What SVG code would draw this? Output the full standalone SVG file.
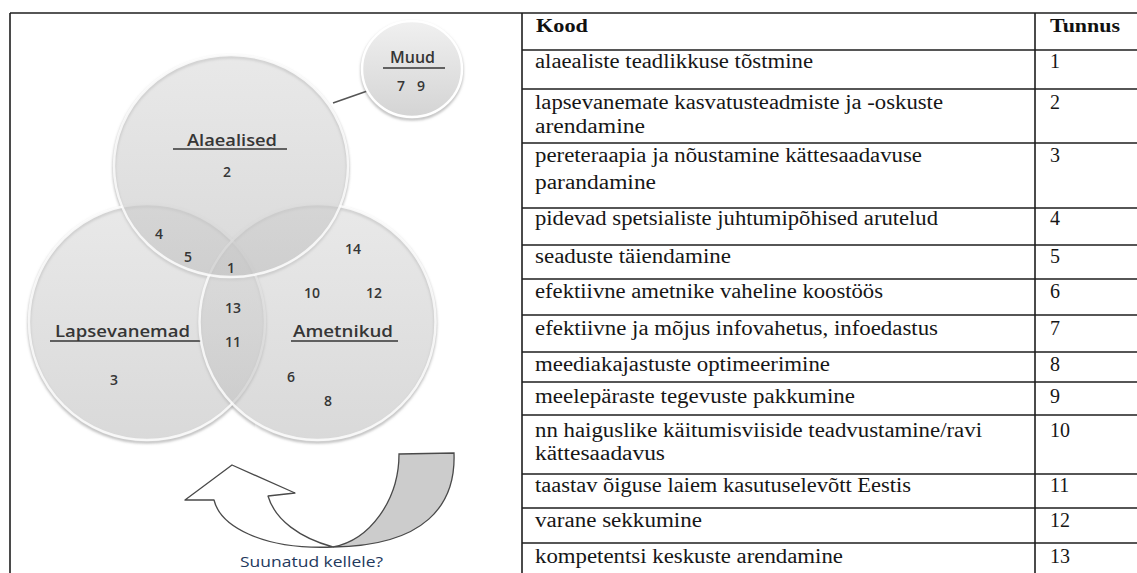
<svg xmlns="http://www.w3.org/2000/svg" width="1137" height="573" viewBox="0 0 1137 573">
<style>
.frame{stroke:#1e1e1e;stroke-width:1.6;fill:none}
.cell{font-family:"Liberation Serif","Times New Roman",serif;font-size:20px;fill:#161616}
.hdr{font-family:"Liberation Serif","Times New Roman",serif;font-size:19px;font-weight:bold;fill:#111}
.lbl{font-family:"Open Sans","Liberation Sans",sans-serif;font-size:16px;font-weight:600;fill:#363636}
.num{font-family:"Open Sans","Liberation Sans",sans-serif;font-size:14px;font-weight:600;fill:#363636;text-anchor:middle}
.ul{stroke:#363636;stroke-width:1.6}
.venn{fill:url(#vg);fill-opacity:0.6;stroke:#ffffff;stroke-opacity:0.8;stroke-width:2.5}
.rim{fill:none;stroke:#9a9a9a;stroke-width:2;filter:url(#blur)}
</style>
<defs>
<linearGradient id="vg" x1="0" y1="0" x2="0" y2="1">
<stop offset="0" stop-color="#dadada"/>
<stop offset="1" stop-color="#c0c0c0"/>
</linearGradient>
<linearGradient id="mg" x1="0" y1="0" x2="0" y2="1">
<stop offset="0" stop-color="#f0f0f0"/>
<stop offset="1" stop-color="#d4d4d4"/>
</linearGradient>
<filter id="blur" x="-10%" y="-10%" width="120%" height="120%">
<feGaussianBlur stdDeviation="1.5"/>
</filter>
</defs>
<rect width="1137" height="573" fill="#ffffff"/>

<g id="frames">
<line class="frame" x1="10" y1="13" x2="1137" y2="13"/>
<line class="frame" x1="10" y1="13" x2="10" y2="573"/>
</g>

<g id="venn-shadows">
<ellipse class="rim" cx="147" cy="324" rx="118" ry="118"/>
<ellipse class="rim" cx="317.5" cy="324" rx="118" ry="118"/>
<ellipse class="rim" cx="231" cy="168" rx="117" ry="111"/>
<ellipse class="rim" cx="412" cy="71" rx="50" ry="48"/>
</g>

<g id="connectors">
<line x1="333" y1="103" x2="373" y2="89" stroke="#555" stroke-width="1.6"/>
</g>

<g id="node-lapsevanemad">
<ellipse class="venn" cx="147" cy="322" rx="118" ry="118"/>
<text class="lbl" x="55" y="337" textLength="135" lengthAdjust="spacingAndGlyphs">Lapsevanemad</text>
<line class="ul" x1="50" y1="341" x2="201" y2="341"/>
<text class="num" x="114" y="385">3</text>
</g>

<g id="node-ametnikud">
<ellipse class="venn" cx="317.5" cy="322" rx="118" ry="118"/>
<text class="lbl" x="293" y="337" textLength="100" lengthAdjust="spacingAndGlyphs">Ametnikud</text>
<line class="ul" x1="291" y1="341" x2="398" y2="341"/>
<text class="num" x="312" y="298">10</text>
<text class="num" x="374" y="298">12</text>
<text class="num" x="353" y="254">14</text>
<text class="num" x="291" y="382">6</text>
<text class="num" x="328" y="406">8</text>
</g>

<g id="node-alaealised">
<ellipse class="venn" cx="231" cy="166" rx="117" ry="111"/>
<text class="lbl" x="187" y="146" textLength="90" lengthAdjust="spacingAndGlyphs">Alaealised</text>
<line class="ul" x1="173" y1="149" x2="287" y2="149"/>
<text class="num" x="227" y="177">2</text>
</g>

<g id="overlaps">
<text class="num" x="159" y="239">4</text>
<text class="num" x="188" y="262">5</text>
<text class="num" x="231" y="273">1</text>
<text class="num" x="233" y="313">13</text>
<text class="num" x="233" y="347">11</text>
</g>

<g id="node-muud">
<ellipse cx="412" cy="69" rx="50" ry="48" fill="url(#mg)" stroke="#ffffff" stroke-width="2.5"/>
<text class="lbl" x="390" y="63" textLength="45" lengthAdjust="spacingAndGlyphs">Muud</text>
<line class="ul" x1="383" y1="68" x2="445" y2="68"/>
<text class="num" x="401" y="91">7</text>
<text class="num" x="421" y="91">9</text>
</g>

<g id="arrow">
<path d="M399,454 L454,453 C456,505 425,546 333,547 C370,540 399,500 399,454 Z" fill="#cccccc" stroke="#4a4a4a" stroke-width="1.3"/>
<path d="M333,547 C300,538 275,520 268,496 L295,493 L232,465 L185,500 L214,500 C220,525 260,550 333,547 Z" fill="#ffffff" stroke="#4a4a4a" stroke-width="1.3" stroke-linejoin="round"/>
<text x="240" y="567" font-family="'Open Sans','Liberation Sans',sans-serif" font-size="15" fill="#23395d" textLength="143" lengthAdjust="spacingAndGlyphs">Suunatud kellele?</text>
</g>

<g id="table-grid" class="frame">
<line x1="522" y1="13" x2="522" y2="573"/>
<line x1="1035" y1="13" x2="1035" y2="573"/>
<line x1="522" y1="50" x2="1137" y2="50"/>
<line x1="522" y1="89" x2="1137" y2="89"/>
<line x1="522" y1="143" x2="1137" y2="143"/>
<line x1="522" y1="208" x2="1137" y2="208"/>
<line x1="522" y1="245" x2="1137" y2="245"/>
<line x1="522" y1="279" x2="1137" y2="279"/>
<line x1="522" y1="315" x2="1137" y2="315"/>
<line x1="522" y1="352" x2="1137" y2="352"/>
<line x1="522" y1="382" x2="1137" y2="382"/>
<line x1="522" y1="415" x2="1137" y2="415"/>
<line x1="522" y1="474" x2="1137" y2="474"/>
<line x1="522" y1="508" x2="1137" y2="508"/>
<line x1="522" y1="543" x2="1137" y2="543"/>
</g>

<g id="table-header">
<text class="hdr" x="536" y="32" textLength="52" lengthAdjust="spacingAndGlyphs">Kood</text>
<text class="hdr" x="1050" y="32" textLength="70" lengthAdjust="spacingAndGlyphs">Tunnus</text>
</g>

<g id="table-rows">
<text class="cell" x="535" y="68" textLength="278" lengthAdjust="spacingAndGlyphs">alaealiste teadlikkuse tõstmine</text>
<text class="cell" x="1050" y="68">1</text>
<text class="cell" x="535" y="109" textLength="408" lengthAdjust="spacingAndGlyphs">lapsevanemate kasvatusteadmiste ja -oskuste</text>
<text class="cell" x="535" y="133" textLength="110" lengthAdjust="spacingAndGlyphs">arendamine</text>
<text class="cell" x="1050" y="109">2</text>
<text class="cell" x="535" y="162" textLength="387" lengthAdjust="spacingAndGlyphs">pereteraapia ja nõustamine kättesaadavuse</text>
<text class="cell" x="535" y="189" textLength="121" lengthAdjust="spacingAndGlyphs">parandamine</text>
<text class="cell" x="1050" y="162">3</text>
<text class="cell" x="535" y="225" textLength="403" lengthAdjust="spacingAndGlyphs">pidevad spetsialiste juhtumipõhised arutelud</text>
<text class="cell" x="1050" y="225">4</text>
<text class="cell" x="535" y="263" textLength="196" lengthAdjust="spacingAndGlyphs">seaduste täiendamine</text>
<text class="cell" x="1050" y="263">5</text>
<text class="cell" x="535" y="298" textLength="348" lengthAdjust="spacingAndGlyphs">efektiivne ametnike vaheline koostöös</text>
<text class="cell" x="1050" y="298">6</text>
<text class="cell" x="535" y="335" textLength="403" lengthAdjust="spacingAndGlyphs">efektiivne ja mõjus infovahetus, infoedastus</text>
<text class="cell" x="1050" y="335">7</text>
<text class="cell" x="535" y="371" textLength="295" lengthAdjust="spacingAndGlyphs">meediakajastuste optimeerimine</text>
<text class="cell" x="1050" y="371">8</text>
<text class="cell" x="535" y="403" textLength="320" lengthAdjust="spacingAndGlyphs">meelepäraste tegevuste pakkumine</text>
<text class="cell" x="1050" y="403">9</text>
<text class="cell" x="535" y="437" textLength="447" lengthAdjust="spacingAndGlyphs">nn haiguslike käitumisviiside teadvustamine/ravi</text>
<text class="cell" x="535" y="460" textLength="130" lengthAdjust="spacingAndGlyphs">kättesaadavus</text>
<text class="cell" x="1050" y="437">10</text>
<text class="cell" x="535" y="492" textLength="376" lengthAdjust="spacingAndGlyphs">taastav õiguse laiem kasutuselevõtt Eestis</text>
<text class="cell" x="1050" y="492">11</text>
<text class="cell" x="535" y="527" textLength="167" lengthAdjust="spacingAndGlyphs">varane sekkumine</text>
<text class="cell" x="1050" y="527">12</text>
<text class="cell" x="535" y="563" textLength="308" lengthAdjust="spacingAndGlyphs">kompetentsi keskuste arendamine</text>
<text class="cell" x="1050" y="563">13</text>
</g>
</svg>
